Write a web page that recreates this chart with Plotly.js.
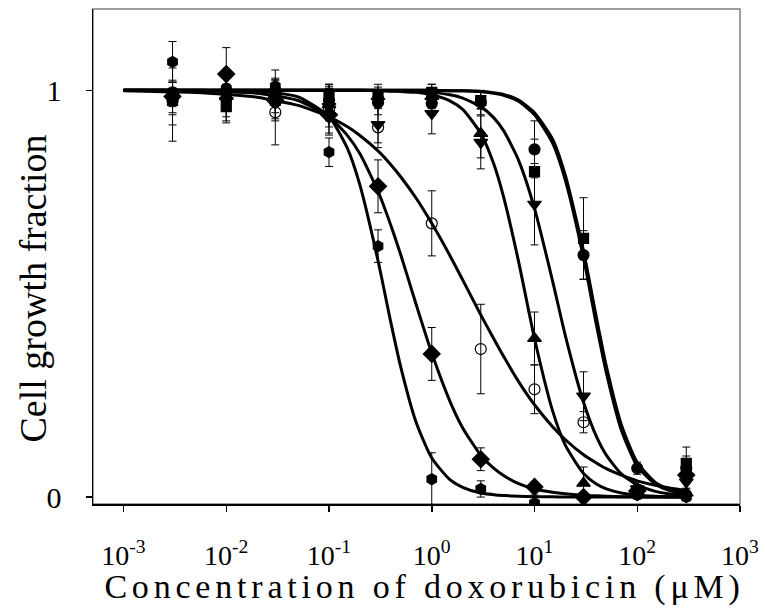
<!DOCTYPE html>
<html>
<head>
<meta charset="utf-8">
<script src="https://cdn.plot.ly/plotly-3.0.1.min.js"></script>
<style>html,body{margin:0;padding:0;background:#fff;}</style>
</head>
<body>
<div id="chart" style="width:765px;height:616px;"></div>
<script>
// Concentrations of measured points (µM)
const concX = [0.003, 0.01, 0.03, 0.1, 0.3, 1, 3, 10, 30, 100, 300];

// Measured growth fractions and error bars, one pair per cell line
const hexY   = [1.07, 1.005, 1.01, 0.848, 0.617, 0.044, 0.02, -0.015, 0.0, 0.005, 0.0];
const hexErr = [0.05, 0.04, 0.04, 0.035, 0.04, 0.065, 0.02, 0.02, 0.01, 0.01, 0.01];

const diaY   = [0.985, 1.04, 0.975, 0.94, 0.764, 0.352, 0.093, 0.025, 0.0, 0.015, 0.054];
const diaErr = [0.07, 0.065, 0.05, 0.05, 0.065, 0.065, 0.028, 0.012, 0.01, 0.015, 0.02];

const ocY    = [0.975, 0.98, 0.946, 0.955, 0.909, 0.673, 0.364, 0.265, 0.184, 0.012, 0.005];
const ocErr  = [0.1, 0.06, 0.08, 0.06, 0.05, 0.08, 0.11, 0.06, 0.026, 0.01, 0.01];

const tuY    = [0.99, 0.985, 0.99, 0.965, 0.985, 0.985, 0.894, 0.39, 0.034, 0.01, 0.01];
const tuErr  = [0.03, 0.03, 0.03, 0.04, 0.03, 0.03, 0.06, 0.065, 0.04, 0.01, 0.01];

const tdY    = [0.98, 0.975, 0.97, 0.96, 0.916, 0.943, 0.872, 0.72, 0.248, 0.02, 0.037];
const tdErr  = [0.04, 0.04, 0.04, 0.05, 0.045, 0.05, 0.065, 0.1, 0.06, 0.01, 0.015];

const sqY    = [0.975, 0.96, 0.975, 0.985, 0.988, 0.995, 0.975, 0.80, 0.636, 0.015, 0.083];
const sqErr  = [0.03, 0.035, 0.03, 0.03, 0.02, 0.02, 0.02, 0.08, 0.1, 0.01, 0.04];

const ciY    = [0.995, 1.0, 1.0, 0.975, 0.97, 0.968, 0.97, 0.855, 0.595, 0.071, 0.071];
const ciErr  = [0.03, 0.03, 0.03, 0.03, 0.03, 0.03, 0.03, 0.07, 0.06, 0.015, 0.03];

// Fitted curves at these concentrations
const curveX = [0.001, 0.002, 0.005, 0.01, 0.02, 0.05, 0.1, 0.15, 0.2, 0.3, 0.4, 0.5, 0.7, 1, 1.5, 2, 3, 4, 5, 7, 10, 15, 20, 30, 40, 50, 70, 100, 150, 200, 300];
const hexFit = [1.0, 1.0, 1.0, 0.999, 0.998, 0.984, 0.935, 0.859, 0.767, 0.581, 0.429, 0.319, 0.186, 0.096, 0.043, 0.024, 0.01, 0.006, 0.004, 0.002, 0.001, 0.001, 0, 0, 0, 0, 0, 0, 0, 0, 0];
const diaFit = [1.0, 1.0, 0.999, 0.997, 0.993, 0.975, 0.935, 0.89, 0.844, 0.752, 0.668, 0.595, 0.476, 0.354, 0.236, 0.17, 0.103, 0.071, 0.053, 0.033, 0.02, 0.012, 0.008, 0.004, 0.003, 0.002, 0.001, 0.001, 0, 0, 0];
const ocFit  = [0.999, 0.997, 0.995, 0.99, 0.983, 0.963, 0.935, 0.911, 0.889, 0.851, 0.817, 0.787, 0.736, 0.673, 0.594, 0.534, 0.448, 0.39, 0.346, 0.284, 0.227, 0.173, 0.141, 0.104, 0.084, 0.07, 0.054, 0.04, 0.029, 0.023, 0.016];
const tuFit  = [1.0, 1.0, 1.0, 1.0, 1.0, 1.0, 1.0, 1.0, 1.0, 0.999, 0.998, 0.997, 0.995, 0.989, 0.974, 0.953, 0.894, 0.82, 0.738, 0.579, 0.39, 0.212, 0.127, 0.058, 0.032, 0.02, 0.01, 0.005, 0.002, 0.001, 0];
const tdFit  = [1.0, 1.0, 1.0, 1.0, 1.0, 1.0, 1.0, 1.0, 1.0, 1.0, 0.999, 0.999, 0.997, 0.995, 0.989, 0.981, 0.96, 0.933, 0.901, 0.828, 0.71, 0.531, 0.396, 0.233, 0.149, 0.103, 0.057, 0.03, 0.014, 0.008, 0.004];
const sqFit  = [1.0, 1.0, 1.0, 1.0, 1.0, 1.0, 1.0, 1.0, 1.0, 1.0, 1.0, 1.0, 1.0, 1.0, 0.999, 0.999, 0.997, 0.994, 0.99, 0.976, 0.945, 0.88, 0.79, 0.605, 0.442, 0.322, 0.178, 0.085, 0.036, 0.02, 0.008];
const ciFit  = [1.0, 1.0, 1.0, 1.0, 1.0, 1.0, 1.0, 1.0, 1.0, 1.0, 1.0, 1.0, 1.0, 1.0, 0.999, 0.999, 0.997, 0.993, 0.988, 0.973, 0.94, 0.87, 0.778, 0.588, 0.424, 0.306, 0.165, 0.076, 0.032, 0.017, 0.007];

// Axis ticks
const xTickVals = [0.001, 0.01, 0.1, 1, 10, 100, 1000];
const xTickText = ['10<sup>-3</sup>', '10<sup>-2</sup>', '10<sup>-1</sup>', '10<sup>0</sup>', '10<sup>1</sup>', '10<sup>2</sup>', '10<sup>3</sup>'];
const yTickVals = [0, 1];
const yTickText = ['0', '1'];

const seriesPts = [
  {y: hexY, e: hexErr, sym: 'hexagon', size: 11},
  {y: diaY, e: diaErr, sym: 'diamond', size: 13},
  {y: ocY,  e: ocErr,  sym: 'circle-open', size: 11},
  {y: tuY,  e: tuErr,  sym: 'triangle-up', size: 12},
  {y: tdY,  e: tdErr,  sym: 'triangle-down', size: 12},
  {y: sqY,  e: sqErr,  sym: 'square', size: 10},
  {y: ciY,  e: ciErr,  sym: 'circle', size: 11}
];
const fits = [hexFit, diaFit, ocFit, tuFit, tdFit, sqFit, ciFit];

const traces = [];
fits.forEach(f => {
  traces.push({
    x: curveX, y: f, type: 'scatter', mode: 'lines',
    line: {color: '#000', width: 3, shape: 'spline', smoothing: 0.6},
    hoverinfo: 'skip', showlegend: false
  });
});
seriesPts.forEach(s => {
  traces.push({
    x: concX, y: s.y, type: 'scatter', mode: 'markers',
    marker: {symbol: s.sym, size: s.size, color: '#000', line: {color: '#000', width: 1.2}},
    error_y: {type: 'data', array: s.e, visible: true, color: '#000', thickness: 1, width: 4},
    showlegend: false
  });
});

const serif = 'Liberation Serif, Times New Roman, serif';
const layout = {
  width: 765, height: 616,
  margin: {l: 93, r: 25, t: 9, b: 112},
  paper_bgcolor: '#fff', plot_bgcolor: '#fff',
  showlegend: false,
  xaxis: {
    type: 'log', range: [-3.297, 3],
    showgrid: false, zeroline: false,
    showline: true, linecolor: '#000', linewidth: 1.5,
    ticks: 'outside', ticklen: 6, tickwidth: 1.5, tickcolor: '#000',
    tickvals: xTickVals, ticktext: xTickText,
    tickfont: {family: serif, size: 28, color: '#000'},
    ticklabelstandoff: 20,
    title: {text: 'Concentration of doxorubicin (μM)', font: {family: serif, size: 34, color: '#000'}, standoff: 2}
  },
  yaxis: {
    range: [-0.017, 1.2],
    showgrid: false, zeroline: false,
    showline: true, linecolor: '#000', linewidth: 1.5,
    ticks: 'outside', ticklen: 6, tickwidth: 1.5, tickcolor: '#000',
    tickvals: yTickVals, ticktext: yTickText,
    tickfont: {family: serif, size: 30, color: '#000'},
    ticklabelstandoff: 18,
    title: {text: 'Cell growth fraction', font: {family: serif, size: 38, color: '#000'}, standoff: 8}
  },
  shapes: [{type: 'rect', xref: 'paper', yref: 'paper', x0: 0, x1: 1, y0: 0, y1: 1,
            line: {color: '#808080', width: 1.5}, layer: 'below'}]
};

Plotly.newPlot('chart', traces, layout, {displayModeBar: false, staticPlot: true}).then(() => {
  document.querySelectorAll('.xtitle').forEach(t => {
    t.style.letterSpacing = '4.8px';
    const tr = t.getAttribute('transform') || '';
    t.setAttribute('transform', 'translate(8,-3) ' + tr);
  });
  document.querySelectorAll('.ytitle').forEach(t => {
    const tr = t.getAttribute('transform') || '';
    t.setAttribute('transform', 'translate(12,32) ' + tr);
  });
});
</script>
</body>
</html>
